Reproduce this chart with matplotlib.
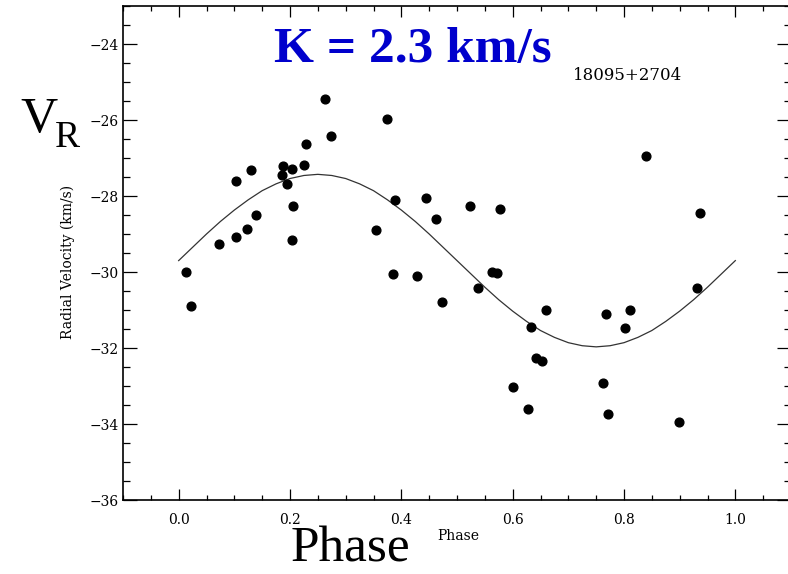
import numpy as np
import matplotlib
matplotlib.use("Agg")
import matplotlib.pyplot as plt
from matplotlib.ticker import MultipleLocator

phase = [0.013, 0.023, 0.072, 0.103, 0.103, 0.122, 0.130, 0.139, 0.187, 0.186,
         0.195, 0.204, 0.205, 0.203, 0.2245, 0.229, 0.262, 0.273, 0.3545, 0.375,
         0.389, 0.385, 0.428, 0.444, 0.462, 0.473, 0.523, 0.538, 0.562, 0.571,
         0.577, 0.601, 0.6275, 0.633, 0.642, 0.653, 0.659, 0.762, 0.768, 0.772,
         0.802, 0.811, 0.839, 0.898, 0.931, 0.9365]
vr = [-30.00, -30.89, -29.27, -29.09, -27.61, -28.86, -27.32, -28.49, -27.22, -27.45,
      -27.69, -27.30, -28.26, -29.15, -27.18, -26.63, -25.46, -26.42, -28.90, -25.97,
      -28.10, -30.06, -30.10, -28.04, -28.61, -30.78, -28.27, -30.42, -30.00, -30.03,
      -28.33, -33.02, -33.60, -31.46, -32.27, -32.33, -30.99, -32.92, -31.11, -33.74,
      -31.48, -31.01, -26.94, -33.95, -30.42, -28.46]

# orbit curve, read at steps of 0.025 in phase
curve_phase = [0.000, 0.025, 0.050, 0.075, 0.100, 0.125, 0.150, 0.175, 0.200, 0.225,
               0.250, 0.275, 0.300, 0.325, 0.350, 0.375, 0.400, 0.425, 0.450, 0.475,
               0.500, 0.525, 0.550, 0.575, 0.600, 0.625, 0.650, 0.675, 0.700, 0.725,
               0.750, 0.775, 0.800, 0.825, 0.850, 0.875, 0.900, 0.925, 0.950, 0.975,
               1.000]
curve_vr = [-29.70, -29.35, -29.00, -28.67, -28.37, -28.10, -27.86, -27.68, -27.54, -27.46,
            -27.43, -27.46, -27.54, -27.68, -27.86, -28.10, -28.37, -28.67, -29.00, -29.35,
            -29.70, -30.05, -30.40, -30.73, -31.03, -31.30, -31.54, -31.72, -31.86, -31.94,
            -31.97, -31.94, -31.86, -31.72, -31.54, -31.30, -31.03, -30.73, -30.40, -30.05,
            -29.70]

fig = plt.figure(figsize=(7.88, 5.74), dpi=100)
ax = fig.add_axes([123/788, 1 - 500/574, (791 - 123)/788, (500 - 6)/574])

ax.plot(curve_phase, curve_vr, color="#333333", lw=0.9)
ax.plot(phase, vr, "o", color="black", ms=6.3, mec="black")

ax.set_xlim(-0.1, 1.1)
ax.set_ylim(-36, -23)
ax.xaxis.set_major_locator(MultipleLocator(0.2))
ax.xaxis.set_minor_locator(MultipleLocator(0.05))
ax.yaxis.set_major_locator(MultipleLocator(2))
ax.yaxis.set_minor_locator(MultipleLocator(0.5))
ax.xaxis.set_major_formatter(plt.FuncFormatter(lambda v, p: f"{v:.1f}"))
ax.yaxis.set_major_formatter(plt.FuncFormatter(lambda v, p: f"\u2212{abs(v):.0f}"))

ax.tick_params(which="both", direction="in", top=True, right=True, width=0.9)
ax.tick_params(axis="x", which="major", length=8, pad=9)
ax.tick_params(axis="x", which="minor", length=3.6)
ax.tick_params(axis="y", which="major", length=10, pad=3)
ax.tick_params(axis="y", which="minor", length=5)
for lab in ax.get_xticklabels() + ax.get_yticklabels():
    lab.set_family("DejaVu Serif")
    lab.set_fontsize(10)
for sp in ax.spines.values():
    sp.set_linewidth(1.2)

# axis titles as drawn in the original
fig.text(458/788, 1 - 536/574, "Phase", family="DejaVu Serif", fontsize=10,
         ha="center", va="center")
fig.text(68/788, 1 - 262/574, "Radial Velocity (km/s)", family="DejaVu Serif",
         fontsize=10, rotation=90, ha="center", va="center")
fig.text(628/788, 1 - 75/574, "18095+2704", family="DejaVu Serif", fontsize=12,
         ha="center", va="center")

# big overlay labels
fig.text(413/788, 1 - 62/574, "K = 2.3 km/s", family="Liberation Serif",
         fontweight="bold", fontsize=37, color="#0000CC", ha="center", va="baseline")
fig.text(20/788, 1 - 132/574, "V", family="Liberation Serif", fontsize=37,
         ha="left", va="baseline")
fig.text(55/788, 1 - 147/574, "R", family="Liberation Serif", fontsize=27,
         ha="left", va="baseline")
fig.text(350/788, 1 - 561/574, "Phase", family="Liberation Serif", fontsize=37,
         ha="center", va="baseline")

fig.savefig("out.png", dpi=100)
